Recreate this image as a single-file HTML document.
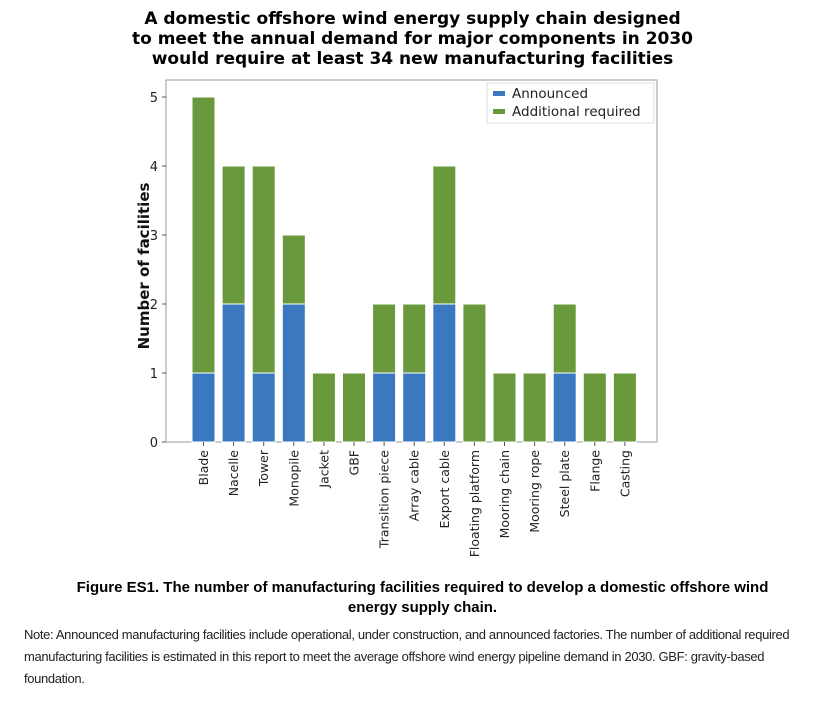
<!DOCTYPE html>
<html><head><meta charset="utf-8"><style>
body{margin:0;background:#fff;width:825px;height:707px;overflow:hidden;position:relative;font-family:"DejaVu Sans","Liberation Sans",sans-serif}
.t{position:absolute;left:0;width:825px;text-align:center}
</style></head><body>
<div class="t" style="top:9px;font-weight:bold;font-size:17px;line-height:20px">A domestic offshore wind energy supply chain designed<br>to meet the annual demand for major components in 2030<br>would require at least 34 new manufacturing facilities</div>
<svg id="chart" width="825" height="570" style="position:absolute;left:0;top:0"></svg>
<div class="t" style="top:578px;left:10px;font-family:'Liberation Sans',sans-serif;font-weight:bold;font-size:15px;line-height:20px">Figure ES1. The number of manufacturing facilities required to develop a domestic offshore wind<br>energy supply chain.</div>
<div style="position:absolute;left:24px;top:624px;width:790px;font-family:'Liberation Sans',sans-serif;font-size:13px;line-height:22px;letter-spacing:-0.35px;color:#222">Note: Announced manufacturing facilities include operational, under construction, and announced factories. The number of additional required manufacturing facilities is estimated in this report to meet the average offshore wind energy pipeline demand in 2030. GBF: gravity-based foundation.</div>
<script>
const categories=["Blade","Nacelle","Tower","Monopile","Jacket","GBF","Transition piece","Array cable","Export cable","Floating platform","Mooring chain","Mooring rope","Steel plate","Flange","Casting"];
const announced=[1,2,1,2,0,0,1,1,2,0,0,0,1,0,0];
const additional=[4,2,3,1,1,1,1,1,2,2,1,1,1,1,1];
const yTicks=[0,1,2,3,4,5];
const NS="http://www.w3.org/2000/svg";
const svg=document.getElementById('chart');
const L=166,R=657,T=80,B=442;
const y=v=>B-v*69;
const x=i=>203.5+i*30.1;
const bw=23;
function mk(t,a){const e=document.createElementNS(NS,t);for(const k in a)e.setAttribute(k,a[k]);svg.appendChild(e);return e;}
const frame=mk('rect',{x:L,y:T,width:R-L,height:B-T,fill:'none',stroke:'#999','stroke-width':1});


yTicks.forEach(v=>{
 const tk=mk('line',{x1:L-4,x2:L,y1:y(v),y2:y(v),stroke:'#555'});
 
 
 const t=mk('text',{x:L-8,y:y(v)+5,'text-anchor':'end','font-size':13,fill:'#222'});
 t.textContent=v;
 
 
});
categories.forEach((c,i)=>{
 const a=announced[i],b=additional[i];
 if(a>0){const r=mk('rect',{x:x(i)-bw/2,y:y(a),width:bw,height:y(0)-y(a),fill:'#3a78c0',stroke:'#fff','stroke-width':1});
 
 }
 const g=mk('rect',{x:x(i)-bw/2,y:y(a+b),width:bw,height:y(a)-y(a+b),fill:'#6a983c',stroke:'#fff','stroke-width':1});
 
 
 const tk=mk('line',{x1:x(i),x2:x(i),y1:B,y2:B+4,stroke:'#555'});
 
 
 const t=mk('text',{x:0,y:0,'text-anchor':'end','font-size':12.5,fill:'#222',transform:`translate(${x(i)+4.5},${B+8}) rotate(-90)`});
 t.textContent=c;
 
 
});
const yl=mk('text',{x:0,y:0,'text-anchor':'middle','font-size':15,'font-weight':'bold',fill:'#111',transform:`translate(149,${(T+B)/2+5}) rotate(-90)`});
yl.textContent='Number of facilities';


const lg=mk('rect',{x:487,y:83,width:167,height:40,fill:'#fff',stroke:'#ddd'});


[['Announced','#3a78c0',94],['Additional required','#6a983c',112]].forEach(([n,c,yy])=>{
 const s=mk('rect',{x:493,y:yy-3,width:12,height:5,fill:c});
 
 
 const t=mk('text',{x:512,y:yy+4,'font-size':13.5,fill:'#222'});
 t.textContent=n;
 
 
});
</script>
</body></html>
